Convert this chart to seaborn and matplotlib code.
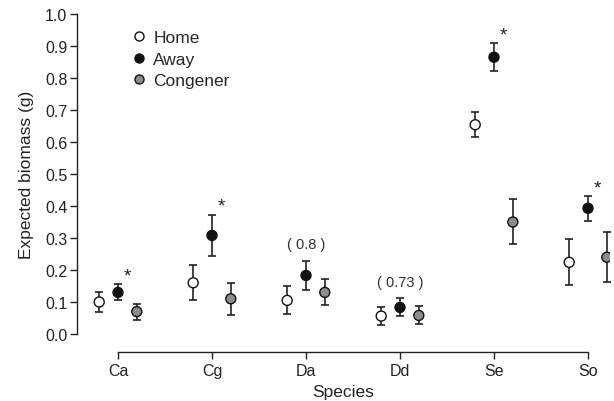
import numpy as np
import pandas as pd
import matplotlib
matplotlib.use("Agg")
import matplotlib.pyplot as plt
from matplotlib.lines import Line2D
import seaborn as sns

species = ["Ca", "Cg", "Da", "Dd", "Se", "So"]
groups = ["Home", "Away", "Congener"]
home_mean = [0.100, 0.160, 0.105, 0.056, 0.654, 0.224]
home_lo = [0.070, 0.105, 0.062, 0.028, 0.615, 0.152]
home_hi = [0.130, 0.215, 0.150, 0.083, 0.694, 0.297]
away_mean = [0.130, 0.308, 0.183, 0.083, 0.865, 0.393]
away_lo = [0.105, 0.245, 0.138, 0.055, 0.823, 0.354]
away_hi = [0.156, 0.373, 0.228, 0.111, 0.908, 0.431]
cong_mean = [0.070, 0.110, 0.130, 0.058, 0.350, 0.240]
cong_lo = [0.045, 0.060, 0.090, 0.031, 0.281, 0.162]
cong_hi = [0.095, 0.160, 0.173, 0.086, 0.421, 0.318]
star_species = ["Ca", "Cg", "Se", "So"]
paren_species = ["Da", "Dd"]
paren_labels = ["( 0.8 )", "( 0.73 )"]

colors = {"Home": "white", "Away": "#111111", "Congener": "#8c8c8c"}

sns.set_style("ticks")
plt.rcParams["font.family"] = ["Liberation Sans", "DejaVu Sans"]

rows = []
for g, m, lo, hi in [("Home", home_mean, home_lo, home_hi),
                     ("Away", away_mean, away_lo, away_hi),
                     ("Congener", cong_mean, cong_lo, cong_hi)]:
    for s, a, b, c in zip(species, m, lo, hi):
        rows.append(dict(species=s, group=g, mean=a, lo=b, hi=c))
df = pd.DataFrame(rows)
df["code"] = df["species"].map({s: i for i, s in enumerate(species)})
dodge = {"Home": -0.2, "Away": 0.0, "Congener": 0.2}
df["xpos"] = df["code"] + df["group"].map(dodge)

fig = plt.figure(figsize=(6.14, 4.02), dpi=100)
ax = fig.add_axes([77/614, 67/402, 533/614, 320/402])

for g in groups:
    d = df[df.group == g]
    ax.errorbar(d["xpos"], d["mean"], yerr=[d["mean"] - d["lo"], d["hi"] - d["mean"]],
                fmt="none", ecolor="#222222", elinewidth=1.2, capsize=2.6, capthick=1.2, zorder=2)

sns.scatterplot(data=df, x="xpos", y="mean", hue="group", hue_order=groups,
                palette=colors, s=52, edgecolor="#111111", linewidth=1.0,
                ax=ax, zorder=3, legend=False)

ax.set_xlim(-41/94, 5 + 22/94)
ax.set_ylim(0, 1.0)
yt = np.round(np.arange(0, 1.01, 0.1), 1)
ax.set_yticks(yt)
ax.set_yticklabels([f"{v:.1f}" for v in yt])
ax.set_xticks(range(len(species)))
ax.set_xticklabels(species)
ax.spines["top"].set_visible(False)
ax.spines["right"].set_visible(False)
ax.spines["bottom"].set_position(("outward", 13))
ax.spines["bottom"].set_bounds(0, len(species) - 1)
ax.spines["left"].set_bounds(0, 1.0)
for sp in ["bottom", "left"]:
    ax.spines[sp].set_linewidth(1.0)
    ax.spines[sp].set_color("#222222")
ax.tick_params(axis="both", length=5, width=1.0, colors="#222222", labelsize=11.5, labelcolor="#222222")
ax.tick_params(axis="x", pad=3)
ax.tick_params(axis="y", pad=2)
ax.set_xlabel("Species", fontsize=12.5, color="#222222", labelpad=4)
ax.set_ylabel("Expected biomass (g)", fontsize=12.5, color="#222222", labelpad=8)

# annotations
for s in star_species:
    i = species.index(s)
    ax.text(i + 0.1, away_hi[i] + 0.012, "*", ha="center", va="baseline", fontsize=13.5, color="#222222")
for s, lab in zip(paren_species, paren_labels):
    i = species.index(s)
    ax.text(i, away_hi[i] + 0.053, lab, ha="center", va="center", fontsize=10.5, color="#333333")

# legend
handles = [Line2D([], [], marker="o", linestyle="none", markersize=6.5,
                  markerfacecolor=colors[g], markeredgecolor="#111111", markeredgewidth=1.0)
           for g in groups]
ax.legend(handles, groups, loc="upper left", bbox_to_anchor=(122/614, 1 - 22/402),
          bbox_transform=fig.transFigure, frameon=False, fontsize=12.5,
          handletextpad=0.3, labelspacing=0.38, handlelength=1.0, borderpad=0)

fig.savefig("out.png", dpi=100)
